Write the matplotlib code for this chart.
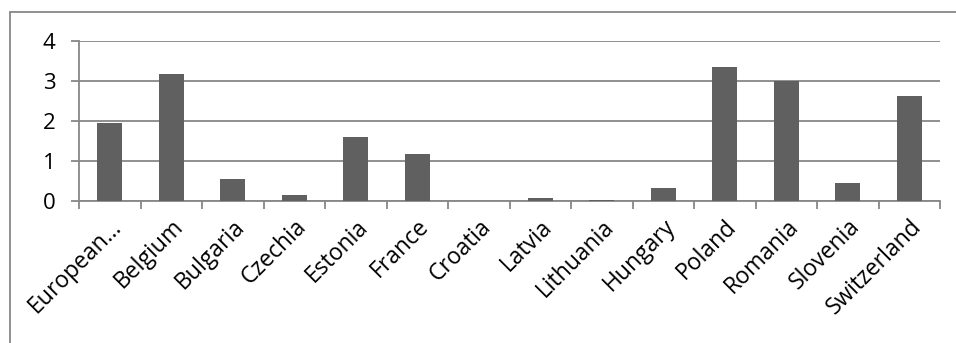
import matplotlib.pyplot as plt
from matplotlib.patches import Rectangle

countries = ['European…', 'Belgium', 'Bulgaria', 'Czechia', 'Estonia', 'France', 'Croatia',
             'Latvia', 'Lithuania', 'Hungary', 'Poland', 'Romania', 'Slovenia', 'Switzerland']
values = [1.95, 3.18, 0.55, 0.15, 1.6, 1.18, 0.0, 0.08, 0.02, 0.33, 3.34, 2.99, 0.44, 2.62]

plt.rcParams['font.family'] = ['Open Sans', 'DejaVu Sans']
grey = '#878787'

fig = plt.figure(figsize=(9.56, 3.43), dpi=100)
ax = fig.add_axes([79 / 956, 142 / 343, 861 / 956, 160 / 343])

x = range(len(countries))
ax.bar(x, values, width=0.4, color='#606060', zorder=3)

ax.set_xlim(-0.5, len(countries) - 0.5)
ax.set_ylim(0, 4)
ax.set_yticks([0, 1, 2, 3, 4])
ax.yaxis.grid(True, color=grey, linewidth=1.3, zorder=0)

# ticks sit on the category boundaries, labels on the centres
ax.set_xticks([i - 0.5 for i in range(len(countries) + 1)])
ax.set_xticklabels([])
ax.set_xticks(list(x), minor=True)
ax.set_xticklabels(countries, minor=True, rotation=45, ha='right', va='top',
                   rotation_mode='anchor', fontsize=16.5)
ax.tick_params(axis='x', which='minor', length=0, pad=10, labelcolor='black')
ax.tick_params(axis='x', which='major', length=6, width=1.3, color=grey)
ax.tick_params(axis='y', length=6, width=1.3, color=grey, labelsize=16, pad=11)

for side in ['top', 'right']:
    ax.spines[side].set_visible(False)
for side in ['left', 'bottom']:
    ax.spines[side].set_color(grey)
    ax.spines[side].set_linewidth(1.3)

# chart area frame
fig.patches.append(Rectangle((10 / 956, -0.1), 1.0, (343 - 12) / 343 + 0.1,
                             transform=fig.transFigure, fill=False,
                             edgecolor=grey, linewidth=1.3))

fig.savefig('out.png', dpi=100)
